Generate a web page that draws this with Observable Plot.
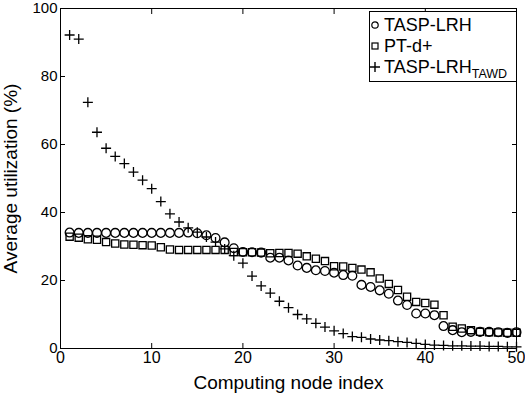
<!DOCTYPE html>
<html>
<head>
<meta charset="utf-8">
<script src="https://cdn.jsdelivr.net/npm/d3@7"></script>
<script src="https://cdn.jsdelivr.net/npm/@observablehq/plot@0.6"></script>
<style>
  html, body { margin: 0; padding: 0; background: #fff; }
  #wrap { position: relative; width: 525px; height: 396px; font-family: "Liberation Sans", Arial, Helvetica, sans-serif; }
  #legend { position: absolute; left: 369px; top: 11px; width: 146px; height: 69px; border: 1px solid #000; background: #fff; }
  .row { position: absolute; left: 0; height: 22px; line-height: 22px; font-size: 18px; color: #000; white-space: nowrap; }
  .row svg { position: absolute; left: 0; top: 0; }
  .row span { position: absolute; left: 14px; top: 0; }
  .row sub { font-size: 12.5px; vertical-align: -5px; line-height: 0; }
</style>
</head>
<body>
<div id="wrap"></div>
<script>
// ---- data ----
const nodeIndex = [1,2,3,4,5,6,7,8,9,10,11,12,13,14,15,16,17,18,19,20,21,22,23,24,25,26,27,28,29,30,31,32,33,34,35,36,37,38,39,40,41,42,43,44,45,46,47,48,49,50];
const taspLRH = [34.1,34.0,34.0,34.0,34.0,34.0,34.0,34.0,34.0,34.0,34.0,34.0,34.0,34.1,33.9,33.3,32.5,31.2,29.5,28.4,28.3,28.2,26.7,26.7,25.9,24.4,23.7,23.0,22.8,22.3,21.6,21.4,18.7,18.1,17.1,16.1,14.1,12.8,10.3,10.3,9.8,6.6,5.4,4.8,4.9,4.9,4.9,4.8,4.6,4.8];
const ptDplus = [32.9,32.6,32.1,32.0,31.3,30.9,30.6,30.5,30.4,30.3,29.8,29.1,29.0,29.0,29.0,29.0,29.0,29.0,28.4,28.3,28.3,28.2,28.0,28.1,28.1,27.9,27.1,26.4,25.7,24.2,24.1,23.7,23.2,22.4,20.6,19.0,17.2,15.2,13.7,13.4,12.9,9.8,6.4,5.9,5.4,4.9,4.8,4.7,4.6,4.6];
const taspTAWD = [92.2,91.0,72.4,63.6,58.9,56.5,54.4,51.9,49.5,47.0,43.2,39.6,37.2,35.5,34.2,32.8,31.3,29.3,27.3,25.1,21.3,18.4,16.3,13.9,12.0,10.0,8.7,7.4,6.3,5.2,4.4,3.5,3.3,2.8,2.5,2.3,2.0,1.8,1.5,1.2,1.0,0.9,0.8,0.8,0.7,0.7,0.6,0.6,0.5,0.5];
const seriesNames = ["TASP-LRH", "PT-d+", "TASP-LRH_TAWD"];
const xTicks = [0,10,20,30,40,50];
const yTicks = [0,20,40,60,80,100];
const xLabel = "Computing node index";
const yLabel = "Average utilization (%)";

// ---- symbols ----
const circleSym = {draw(ctx) { const r = 4.4; ctx.moveTo(r, 0); ctx.arc(0, 0, r, 0, 2 * Math.PI); ctx.closePath(); }};
const squareSym = {draw(ctx) { const h = 3.6; ctx.moveTo(-h, -h); ctx.lineTo(h, -h); ctx.lineTo(h, h); ctx.lineTo(-h, h); ctx.closePath(); }};
const plusSym = {draw(ctx) { const h = 5; ctx.moveTo(-h, 0); ctx.lineTo(h, 0); ctx.moveTo(0, -h); ctx.lineTo(0, h); }};

const rows = (ys) => nodeIndex.map((x, i) => ({x, y: ys[i]}));

const chart = Plot.plot({
  width: 525,
  height: 396,
  marginLeft: 60,
  marginRight: 9,
  marginTop: 8,
  marginBottom: 48,
  style: {fontFamily: '"Liberation Sans", Arial, Helvetica, sans-serif', background: "#fff", color: "#000", overflow: "visible"},
  x: {domain: [0, 50]},
  y: {domain: [0, 100]},
  marks: [
    Plot.dot(rows(taspLRH), {x: "x", y: "y", symbol: circleSym, stroke: "#000", strokeWidth: 1.3, fill: "none"}),
    Plot.dot(rows(ptDplus), {x: "x", y: "y", symbol: squareSym, stroke: "#000", strokeWidth: 1.3, fill: "none"}),
    Plot.dot(rows(taspTAWD), {x: "x", y: "y", symbol: plusSym, stroke: "#000", strokeWidth: 1.3, fill: "none"}),
    // inward ticks on all four sides
    Plot.axisX({anchor: "bottom", ticks: xTicks, tickSize: -5, fill: "none", stroke: "#000"}),
    Plot.axisX({anchor: "top", ticks: xTicks, tickSize: -5, fill: "none", stroke: "#000"}),
    Plot.axisY({anchor: "left", ticks: yTicks, tickSize: -5, fill: "none", stroke: "#000"}),
    Plot.axisY({anchor: "right", ticks: yTicks, tickSize: -5, fill: "none", stroke: "#000"}),
    // tick labels
    Plot.axisX({anchor: "bottom", ticks: xTicks, tickSize: 0, tickPadding: 3, fontSize: 16, label: null, fill: "#000"}),
    Plot.axisY({anchor: "left", ticks: yTicks, tickSize: 0, tickPadding: 3, fontSize: 15, label: null, fill: "#000"}),
    // axis titles
    Plot.axisX({anchor: "bottom", ticks: [], tickSize: 0, label: xLabel, labelAnchor: "center", labelArrow: "none", labelOffset: 40, fontSize: 19, fill: "#000"}),
    Plot.axisY({anchor: "left", ticks: [], tickSize: 0, label: yLabel, labelAnchor: "center", labelArrow: "none", labelOffset: 57, fontSize: 19, fill: "#000"}),
    Plot.frame({stroke: "#000", strokeWidth: 1})
  ]
});

const wrap = document.getElementById("wrap");
wrap.appendChild(chart);

// ---- legend (inside plot, top right) ----
const legend = document.createElement("div");
legend.id = "legend";
const legSyms = [
  '<circle cx="5" cy="11" r="3.2" fill="none" stroke="#000" stroke-width="1.2"/>',
  '<rect x="2" y="8" width="6" height="6" fill="none" stroke="#000" stroke-width="1.2"/>',
  '<path d="M0,11H10M5,6V16" stroke="#000" stroke-width="1.4" fill="none"/>'
];
const legTexts = [seriesNames[0], seriesNames[1], seriesNames[2].replace(/_(.*)$/, "<sub>$1</sub>")];
const rowTops = [2, 23, 44];
legTexts.forEach((t, i) => {
  const row = document.createElement("div");
  row.className = "row";
  row.style.top = rowTops[i] + "px";
  row.innerHTML = `<svg width="12" height="22">${legSyms[i]}</svg><span>${t}</span>`;
  legend.appendChild(row);
});
wrap.appendChild(legend);
</script>
</body>
</html>
